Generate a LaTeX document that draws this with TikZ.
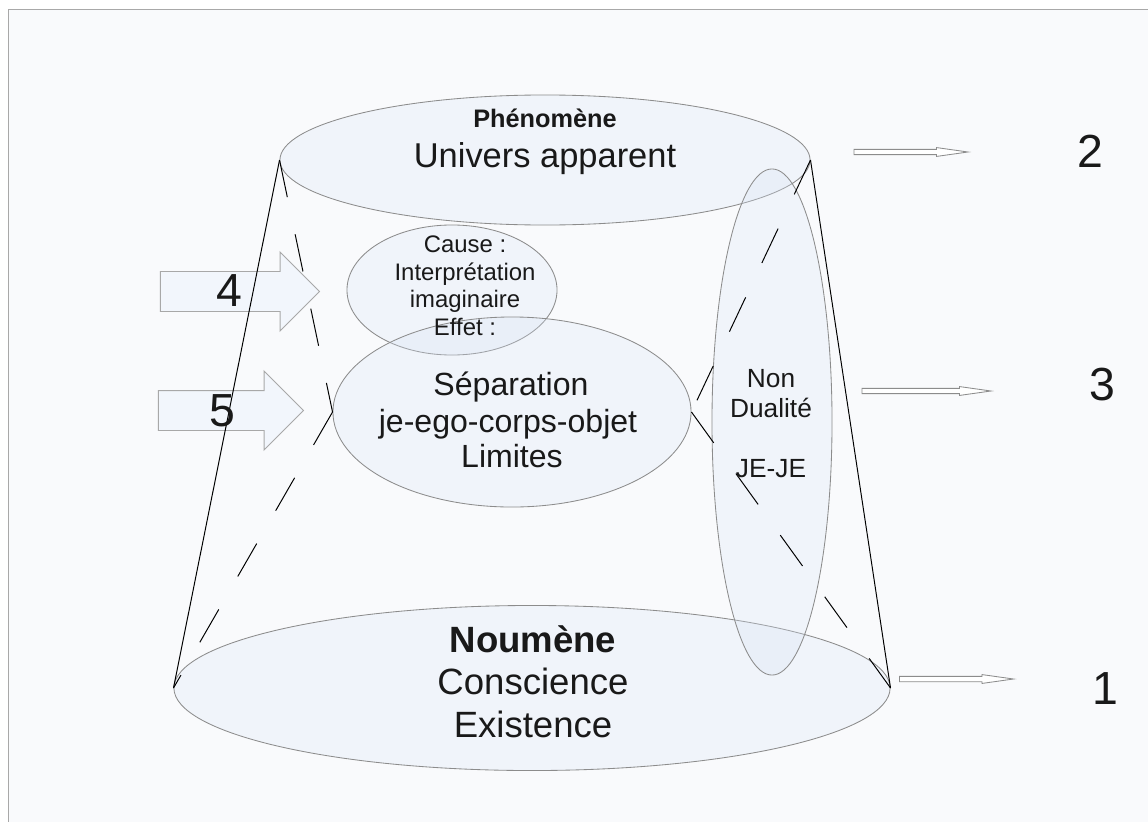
\documentclass[tikz,border=0pt]{standalone}
\usepackage{fontspec}
\setmainfont{Liberation Sans}
\usetikzlibrary{shapes.geometric,shapes.arrows}
\definecolor{pagebg}{HTML}{F9FAFC}
\definecolor{framegray}{HTML}{A8A8A8}
\definecolor{rimgray}{HTML}{8C8C8C}
\definecolor{bluefill}{HTML}{D8E4F6}
\definecolor{arrowfill}{HTML}{F2F6FC}
\begin{document}
\begin{tikzpicture}[x=0.025cm, y=-0.025cm,
  disc/.style={shape=ellipse, draw=rimgray, line width=0.6pt, fill=bluefill, fill opacity=0.27, draw opacity=1, inner sep=0pt},
  rim/.style={draw=black, line width=0.7pt},
  hidden/.style={draw=black, line width=0.7pt, dash pattern=on 27pt off 27pt},
  bigarrow/.style={shape=single arrow, draw=framegray, fill=arrowfill, line width=0.7pt, inner xsep=0pt, inner ysep=0.4875cm, single arrow head extend=0.4875cm, single arrow tip angle=90},
  thinarrow/.style={shape=single arrow, draw=rimgray, fill=white, line width=0.6pt, inner xsep=0pt, inner ysep=0.056cm, single arrow head extend=0.044cm, single arrow tip angle=16},
  txt/.style={anchor=base, inner sep=0pt, text=black!90},
  num/.style={font=\fontsize{33}{38}\selectfont, text=black!90}]
\useasboundingbox (0,0) rectangle (1148,821);
\fill[white] (0,0) rectangle (1148,821);
\filldraw[fill=pagebg, draw=framegray, line width=0.7pt] (8,830) -- (8,9) -- (1160,9) -- (1160,830) -- cycle;
\node[disc, minimum width=17.9cm, minimum height=4.125cm] (N) at (532,688) {};
\node[disc, minimum width=13.25cm, minimum height=3.25cm] (P) at (545,160) {};
\node[disc, minimum width=5.25cm, minimum height=3.25cm] (C) at (452,290) {};
\node[disc, minimum width=8.95cm, minimum height=4.75cm] (S) at (512,412) {};
\node[disc, minimum width=3cm, minimum height=12.65cm] (D) at (772,422) {};
\node[bigarrow, minimum height=3.975cm] (a4) at (230,291.5) {};
\node[bigarrow, minimum height=3.625cm] (a5) at (221,410.5) {};
\node[thinarrow, minimum height=2.85cm] (a2) at (901.5,152) {};
\node[thinarrow, minimum height=3.225cm] (a3) at (917,391) {};
\node[thinarrow, minimum height=2.85cm] (a1) at (947,679) {};
\path[rim] (P.west) edge (N.west);
\path[rim] (P.east) edge (N.east);
\path[hidden] (P.west) edge (S.west);
\path[hidden] (S.west) edge (N.west);
\path[hidden] (P.east) edge (S.east);
\path[hidden] (S.east) edge (N.east);
\node[txt, font=\fontsize{18}{21}\selectfont\bfseries] (ph) at (545,127) {Phénomène};
\node[txt, font=\fontsize{24.5}{29}\selectfont] (ua) at (545,167) {Univers apparent};
\node[txt, font=\fontsize{26}{30}\selectfont\bfseries] (no) at (533,652) {Noumène};
\node[txt, font=\fontsize{26}{30}\selectfont] (co) at (533,694) {Conscience};
\node[txt, font=\fontsize{26}{30}\selectfont] (ex) at (533,737) {Existence};
\node[txt, font=\fontsize{17}{20}\selectfont] (c1) at (465,252) {Cause :};
\node[txt, font=\fontsize{17}{20}\selectfont] (c2) at (465,280) {Interprétation};
\node[txt, font=\fontsize{17}{20}\selectfont] (c3) at (465,307) {imaginaire};
\node[txt, font=\fontsize{17}{20}\selectfont] (c4) at (465,335) {Effet :};
\node[txt, font=\fontsize{22.8}{26}\selectfont] (s1) at (511,395) {Séparation};
\node[txt, font=\fontsize{22.8}{26}\selectfont] (s2) at (508,432) {je-ego-corps-objet};
\node[txt, font=\fontsize{22.8}{26}\selectfont] (s3) at (512,467) {Limites};
\node[txt, font=\fontsize{18.7}{22}\selectfont] (d1) at (771,387) {Non};
\node[txt, font=\fontsize{18.7}{22}\selectfont] (d2) at (771,417) {Dualité};
\node[txt, font=\fontsize{18.7}{22}\selectfont] (d3) at (771,477) {JE-JE};
\node[num] (n2) at (1090,151) {2};
\node[num] (n3) at (1102,385) {3};
\node[num] (n1) at (1105,689) {1};
\node[num] (n4) at (229,291) {4};
\node[num] (n5) at (222,411) {5};
\end{tikzpicture}
\end{document}
